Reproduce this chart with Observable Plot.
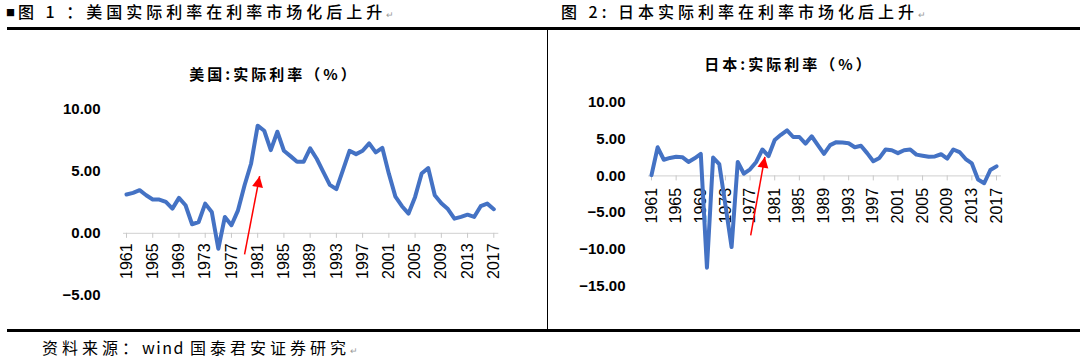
<!DOCTYPE html>
<html><head><meta charset="utf-8">
<script src="https://cdn.jsdelivr.net/npm/d3@7"></script>
<script src="https://cdn.jsdelivr.net/npm/@observablehq/plot@0.6"></script>
<style>
html,body{margin:0;padding:0;background:#fff;}
#page{position:relative;width:1080px;height:358px;overflow:hidden;font-family:"Noto Sans CJK SC",sans-serif;color:#000;}
.hdr{position:absolute;font-size:16px;letter-spacing:4px;white-space:pre;line-height:18px;font-weight:500;}
.cap{position:absolute;font-size:16px;letter-spacing:4px;white-space:pre;line-height:18px;font-weight:400;}
.sq{font-size:9px;letter-spacing:3px;vertical-align:2px;}
.lat{letter-spacing:1.5px;}
.ret{color:#9a9a9a;font-size:9px;letter-spacing:0;}
.rule{position:absolute;background:#000;}
.ctitle{position:absolute;font-size:15px;font-weight:bold;letter-spacing:3px;white-space:pre;line-height:1;transform:translate(-50%,-50%);}
.chart{position:absolute;top:40px;}
</style></head>
<body><div id="page">
<div class="hdr" style="left:6px;top:2px;"><span class="sq">■</span>图 1 ：美国实际利率在利率市场化后上升<span class="ret">↵</span></div>
<div class="hdr" style="left:561px;top:2px;">图 2: 日本实际利率在利率市场化后上升<span class="ret">↵</span></div>
<div class="rule" style="left:7px;top:27px;width:1073px;height:3px;"></div>
<div class="rule" style="left:547px;top:28px;width:1px;height:302px;"></div>
<div class="rule" style="left:7px;top:329px;width:1073px;height:3px;"></div>
<div class="cap" style="left:42px;top:338px;">资料来源：<span class="lat">wind </span>国泰君安证券研究<span class="ret">↵</span></div>
<div id="us" class="chart" style="left:0px;"></div>
<div id="jp" class="chart" style="left:540px;"></div>
<div class="ctitle" style="left:274px;top:73px;">美国:实际利率（%）</div>
<div class="ctitle" style="left:789px;top:63px;">日本:实际利率（%）</div>
</div>
<script>
const years = d3.range(1961, 2018);
const usRate = [3.12,3.25,3.47,3.06,2.72,2.72,2.53,1.99,2.85,2.26,
  0.73,0.91,2.39,1.72,-1.24,1.32,0.65,1.85,3.87,5.62,
  8.66,8.25,6.69,8.17,6.64,6.21,5.75,5.75,6.83,6.0,
  4.95,3.9,3.55,5.08,6.64,6.37,6.64,7.23,6.51,6.88,
  4.8,2.95,2.18,1.59,2.93,4.81,5.25,3.06,2.42,1.95,
  1.18,1.32,1.5,1.32,2.18,2.39,1.94];
const jpRate = [0.1,3.9,2.2,2.45,2.6,2.55,1.9,2.4,3.0,-12.5,
  2.5,1.6,-4.0,-9.7,1.9,0.3,0.9,1.9,3.6,2.7,
  4.9,5.6,6.2,5.3,5.3,4.4,5.4,4.2,3.0,4.2,
  4.6,4.55,4.45,3.9,4.1,3.1,2.0,2.45,3.6,3.5,
  3.1,3.5,3.6,2.9,2.75,2.6,2.65,2.95,2.35,3.6,
  3.25,2.3,1.7,-0.5,-1.0,0.8,1.3];
const xTickYears = [1961,1965,1969,1973,1977,1981,1985,1989,1993,1997,2001,2005,2009,2013,2017];
const usYTicks = [10,5,0,-5];
const jpYTicks = [10,5,0,-5,-10,-15];
const usArrow = [{x1:1979.0, y1:-1.7, x2:1981.3, y2:4.6}];
const jpArrow = [{x1:1977.1, y1:-8.1, x2:1979.4, y2:2.6}];

const fmt = d3.format(".2f");

function makeChart(cfg) {
  const W = 540, H = 280;
  const data = years.map((y, i) => ({year: y, value: cfg.values[i]}));
  const ppx = (W - cfg.ml - cfg.mr) / (2017 - 1961);
  const ppy = (H - cfg.mt - cfg.mb) / (cfg.ydom[1] - cfg.ydom[0]);
  const a = cfg.arrow[0];
  const angle = Math.atan2((a.x2 - a.x1) * ppx, (a.y2 - a.y1) * ppy) * 180 / Math.PI;
  return Plot.plot({
    width: W, height: H,
    marginLeft: cfg.ml, marginRight: cfg.mr, marginTop: cfg.mt, marginBottom: cfg.mb,
    style: {fontFamily: "'Liberation Sans', Arial, sans-serif", fontSize: "15px", background: "transparent", color: "#000", overflow: "visible"},
    x: {domain: [1961, 2017], axis: null},
    y: {domain: cfg.ydom, axis: null},
    marks: [
      Plot.ruleY([0], {stroke: "#d9d9d9", strokeWidth: 1.2, insetLeft: -3, insetRight: -5}),
      Plot.ruleX(xTickYears, {x: d => d, y1: 0, y2: 0, insetBottom: -5, stroke: "#c8c8c8", strokeWidth: 1}),
      Plot.text(xTickYears, {x: d => d, y: 0, text: d => String(d), rotate: -90, textAnchor: "end", lineAnchor: "middle", dy: cfg.labelDy, fontSize: 16, fill: "#000"}),
      Plot.axisY({ticks: cfg.yticks, tickFormat: fmt, tickSize: 0, tickPadding: 26, label: null, fontSize: 15, fontWeight: "bold"}),
      Plot.line(data, {x: "year", y: "value", stroke: "#4472C4", strokeWidth: 4, strokeLinejoin: "round", strokeLinecap: "round"}),
      Plot.link(cfg.arrow, {x1: "x1", y1: "y1", x2: "x2", y2: "y2", stroke: "#ff0000", strokeWidth: 1.5}),
      Plot.vector(cfg.arrow, {x: "x2", y: "y2", rotate: angle, length: 11, r: 5.5, shape: "spike", anchor: "end", fill: "#ff0000", stroke: "none"})
    ]
  });
}

document.getElementById("us").append(makeChart({
  values: usRate, ydom: [-5, 10], yticks: usYTicks,
  ml: 126, mr: 46.7, mt: 68.5, mb: 25, labelDy: 10, arrow: usArrow
}));
document.getElementById("jp").append(makeChart({
  values: jpRate, ydom: [-15, 10], yticks: jpYTicks,
  ml: 111, mr: 84, mt: 62, mb: 34.5, labelDy: 12, arrow: jpArrow
}));
</script>
</body></html>
